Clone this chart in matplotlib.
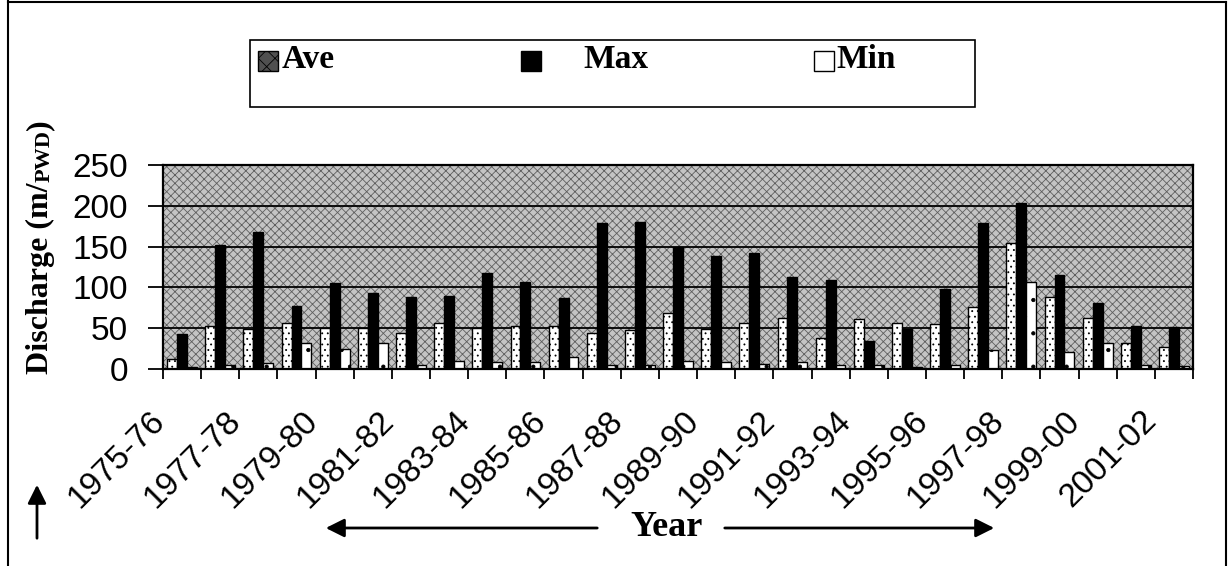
import numpy as np
import matplotlib.pyplot as plt
from matplotlib.patches import Rectangle, FancyArrowPatch
from matplotlib.lines import Line2D
from matplotlib.transforms import ScaledTranslation

years = ["1975-76", "1976-77", "1977-78", "1978-79", "1979-80", "1980-81", "1981-82",
         "1982-83", "1983-84", "1984-85", "1985-86", "1986-87", "1987-88", "1988-89",
         "1989-90", "1990-91", "1991-92", "1992-93", "1993-94", "1994-95", "1995-96",
         "1996-97", "1997-98", "1998-99", "1999-00", "2000-01", "2001-02"]
ave = [12, 53, 49, 56, 50, 50, 44, 56, 50, 53, 53, 44, 48, 69, 49, 56, 62, 38,
       61, 56, 55, 76, 155, 88, 63, 32, 27]
vmax = [43, 152, 168, 77, 105, 93, 88, 89, 118, 107, 87, 179, 180, 150, 138, 142,
        113, 109, 34, 49, 98, 179, 203, 115, 81, 53, 51]
vmin = [2, 5, 7, 32, 24, 32, 5, 10, 8, 8, 15, 5, 5, 10, 8, 6, 8, 5, 5, 3, 5, 23,
        107, 21, 32, 5, 4]

W, H = 1229, 566
SANS = "Liberation Sans"
SERIF = "Liberation Serif"
plt.rcParams["hatch.linewidth"] = 0.6


def fx(x):
    return x / W


def fy(y):
    return 1 - y / H


fig = plt.figure(figsize=(W / 100, H / 100), dpi=100)
ax = fig.add_axes([fx(163), fy(369), (1193 - 163) / W, (369 - 165) / H])

# patterned plot area
ax.set_facecolor("#c4c4c4")
ax.add_patch(Rectangle((0, 0), 1, 1, transform=ax.transAxes, facecolor="none",
                       edgecolor="#5e5e5e", hatch="xxxx", lw=0, zorder=0.2))

x = np.arange(len(years))
w = 0.26
ax.bar(x - w, ave, w, facecolor="white", edgecolor="black", hatch="...", lw=1.0, zorder=2)
ax.bar(x, vmax, w, facecolor="black", edgecolor="black", lw=1.0, zorder=2)
ax.bar(x + w, vmin, w, facecolor="white", edgecolor="black", hatch=".", lw=1.0, zorder=2)

ax.set_xlim(-0.5, len(years) - 0.5)
ax.set_ylim(0, 250)
ax.set_yticks(range(0, 251, 50))
ax.yaxis.grid(True, color="black", lw=1.3)
ax.set_axisbelow(True)
for s in ax.spines.values():
    s.set_linewidth(1.6)

ax.tick_params(axis="y", direction="out", length=11, width=1.3, pad=14, labelsize=24)
for lab in ax.get_yticklabels():
    lab.set_fontfamily(SANS)

ax.set_xticks(x[::2])
ax.set_xticklabels(years[::2], rotation=45, ha="right", va="top",
                   rotation_mode="anchor", fontsize=24, fontfamily=SANS)
ax.set_xticks(np.arange(-0.5, len(years)), minor=True)
ax.tick_params(axis="x", which="major", length=0, pad=26)
ax.tick_params(axis="x", which="minor", direction="out", length=7, width=1.3)
off = ScaledTranslation(-33 / 100, 0, fig.dpi_scale_trans)
for lab in ax.get_xticklabels():
    lab.set_transform(lab.get_transform() + off)

# y label with small-caps unit
renderer = fig.canvas.get_renderer()
t1 = fig.text(fx(40), fy(374), "Discharge (m/", rotation=90, rotation_mode="anchor",
              ha="left", va="center", fontsize=23, fontweight="bold", fontfamily=SERIF)
bb = t1.get_window_extent(renderer)
t2 = fig.text(fx(45), bb.y1 / H, "PWD", rotation=90, rotation_mode="anchor",
              ha="left", va="center", fontsize=16, fontweight="bold", fontfamily=SERIF)
bb2 = t2.get_window_extent(renderer)
fig.text(fx(40), bb2.y1 / H, ")", rotation=90, rotation_mode="anchor",
         ha="left", va="center", fontsize=23, fontweight="bold", fontfamily=SERIF)

# legend box
fig.patches.append(Rectangle((fx(250), fy(107)), (975 - 250) / W, (107 - 40) / H,
                             transform=fig.transFigure, facecolor="white",
                             edgecolor="black", lw=1.2))
leg = [("Ave", 258, 282, dict(facecolor="#505050", hatch="xx", edgecolor="black")),
       ("Max", 521, 583, dict(facecolor="black", edgecolor="black")),
       ("Min", 814, 836, dict(facecolor="white", hatch=":", edgecolor="black"))]
for name, px, tx, sty in leg:
    fig.patches.append(Rectangle((fx(px), fy(71)), 20 / W, 20 / H,
                                 transform=fig.transFigure, lw=1.0, **sty))
    fig.text(fx(tx), fy(60), name, ha="left", va="center", fontsize=24,
             fontweight="bold", fontfamily=SERIF)

# Year caption with arrows
fig.text(fx(667), fy(527), "Year", ha="center", va="center", fontsize=26,
         fontweight="bold", fontfamily=SERIF)
arrow = dict(arrowstyle="-|>", lw=2, color="black", mutation_scale=28)
for start, tip in [((600, 528), (323, 528)), ((722, 528), (997, 528)), ((37, 541), (37, 482))]:
    fig.patches.append(FancyArrowPatch(
        (fx(start[0]), fy(start[1])), (fx(tip[0]), fy(tip[1])),
        transform=fig.transFigure, **arrow))

# outer frame
for xs, ys in [([8, 8], [0, 566]), ([8, 1226], [2, 2]), ([1226, 1226], [2, 566])]:
    fig.lines.append(Line2D([fx(v) for v in xs], [fy(v) for v in ys],
                            transform=fig.transFigure, color="black", lw=1.5))

fig.savefig("out.png", dpi=100)
